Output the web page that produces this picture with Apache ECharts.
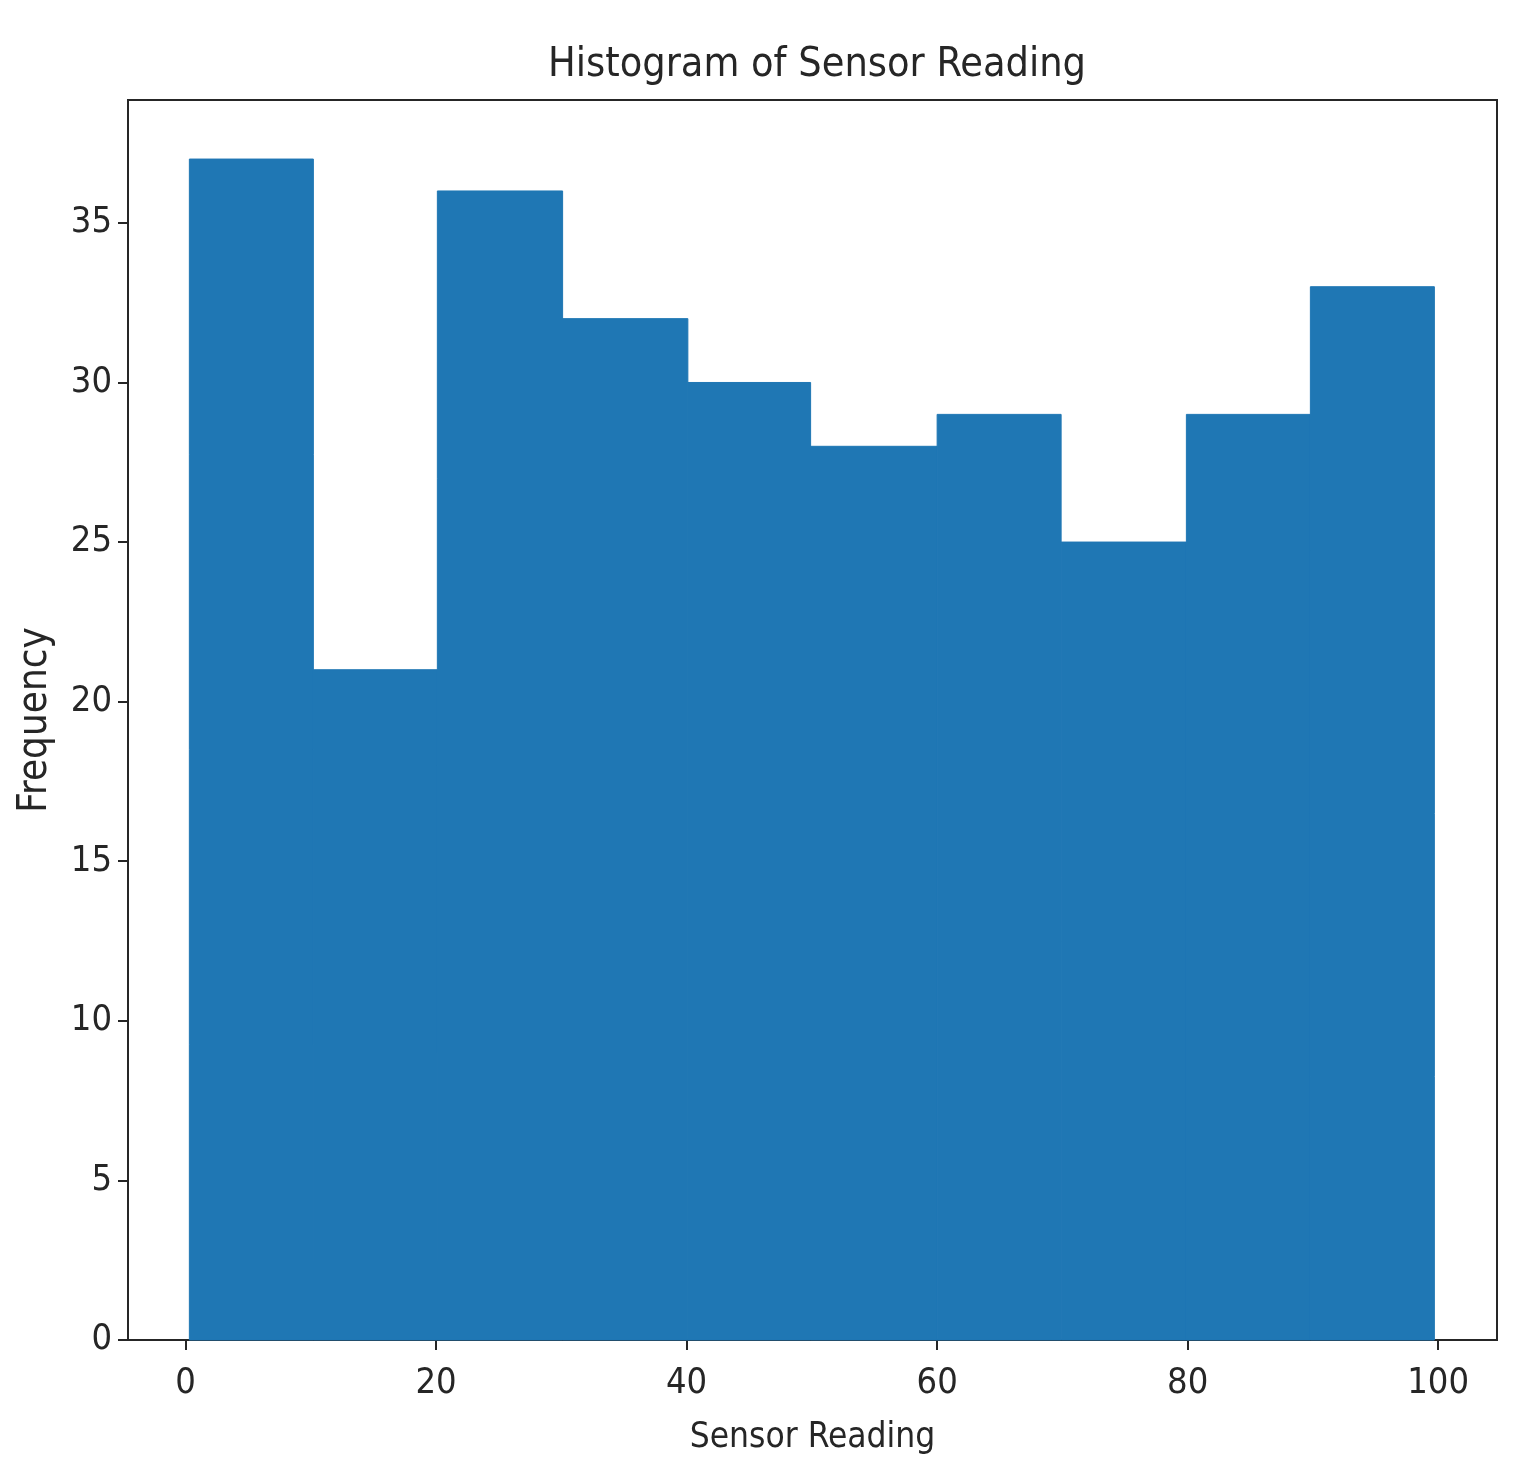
<!DOCTYPE html>
<html>
<head>
<meta charset="utf-8">
<title>Histogram of Sensor Reading</title>
<script src="https://cdn.jsdelivr.net/npm/echarts@6/dist/echarts.min.js"></script>
<style>
  html, body { margin: 0; padding: 0; background: #fff; }
  #chart { width: 1513px; height: 1466px; }
</style>
</head>
<body>
<div id="chart"></div>
<script>
// bin edges and counts
const binEdges = [0.3, 10.2, 20.1, 30.1, 40.1, 49.9, 60.0, 69.9, 79.9, 89.8, 99.7]
const counts = [37, 21, 36, 32, 30, 28, 29, 25, 29, 33]
const xTicks = [0, 20, 40, 60, 80, 100]
const yTicks = [0, 5, 10, 15, 20, 25, 30, 35]

const font = "'Liberation Sans Narrow', 'DejaVu Sans Condensed', 'DejaVu Sans', sans-serif"
const ink = '#262626'
const barColor = '#1f77b4'

const bins = counts.map((c, i) => [binEdges[i], binEdges[i + 1], c])

const chart = echarts.init(document.getElementById('chart'), null, { renderer: 'canvas' })

const option = {
  animation: false,
  backgroundColor: '#fff',
  title: {
    text: 'Histogram of Sensor Reading',
    left: 812,
    top: 40,
    textAlign: 'center',
    textStyle: { fontFamily: font, fontSize: 41, fontWeight: 'normal', color: ink },
  },
  grid: {
    left: 128,
    right: 16,
    top: 100,
    bottom: 126,
    show: true,
    borderColor: ink,
    borderWidth: 2,
    backgroundColor: 'transparent',
  },
  xAxis: {
    type: 'value',
    min: -4.6,
    max: 104.7,
    name: 'Sensor Reading',
    nameLocation: 'middle',
    nameGap: 80,
    nameTextStyle: { fontFamily: font, fontSize: 35, color: ink },
    splitLine: { show: false },
    axisLine: { show: true, onZero: false, lineStyle: { color: ink, width: 2 } },
    axisTick: { show: true, length: 10, customValues: xTicks, lineStyle: { color: ink, width: 2 } },
    axisLabel: { customValues: xTicks, margin: 26, fontFamily: font, fontSize: 36, color: ink },
  },
  yAxis: {
    type: 'value',
    min: 0,
    max: 38.85,
    name: 'Frequency',
    nameLocation: 'middle',
    nameGap: 72,
    nameTextStyle: { fontFamily: font, fontSize: 40, color: ink },
    splitLine: { show: false },
    axisLine: { show: true, onZero: false, lineStyle: { color: ink, width: 2 } },
    axisTick: { show: true, length: 10, customValues: yTicks, lineStyle: { color: ink, width: 2 } },
    axisLabel: { customValues: yTicks, margin: 16, fontFamily: font, fontSize: 36, color: ink },
  },
  series: [
    {
      type: 'custom',
      data: bins,
      encode: { x: [0, 1], y: 2 },
      renderItem: (params, api) => {
        const p0 = api.coord([api.value(0), api.value(2)])
        const p1 = api.coord([api.value(1), 0])
        return {
          type: 'rect',
          shape: { x: p0[0], y: p0[1], width: p1[0] - p0[0], height: p1[1] - p0[1] },
          style: { fill: barColor, stroke: barColor, lineWidth: 1 },
        }
      },
    },
  ],
}

chart.setOption(option)
</script>
</body>
</html>
